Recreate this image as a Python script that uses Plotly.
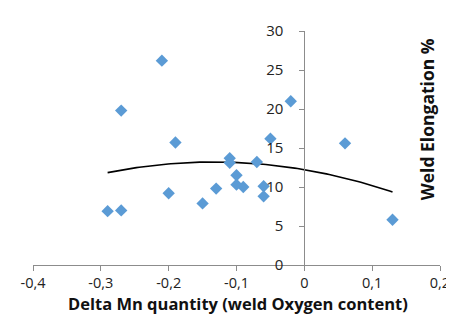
import numpy as np
import plotly.graph_objects as go

# Data
delta_mn = [-0.29, -0.27, -0.27, -0.21, -0.19, -0.20, -0.15, -0.13, -0.11, -0.11,
            -0.10, -0.10, -0.09, -0.07, -0.06, -0.06, -0.05, -0.02, 0.06, 0.13]
elongation = [6.9, 7.0, 19.8, 26.2, 15.7, 9.2, 7.9, 9.8, 13.7, 13.1,
              11.5, 10.3, 10.0, 13.2, 10.1, 8.8, 16.2, 21.0, 15.6, 5.8]

x_tickvals = [-0.4, -0.3, -0.2, -0.1, 0, 0.1, 0.2]
x_ticktext = ["-0,4", "-0,3", "-0,2", "-0,1", "0", "0,1", "0,2"]
y_tickvals = [0, 5, 10, 15, 20, 25, 30]
y_ticktext = ["0", "5", "10", "15", "20", "25", "30"]

x_title = "Delta Mn quantity (weld Oxygen content)"
y_title = "Weld Elongation %"

# Polynomial (order 2) trendline, as in the spreadsheet chart
coef = np.polyfit(delta_mn, elongation, 2)
tx = np.linspace(min(delta_mn), max(delta_mn), 100)
ty = np.polyval(coef, tx)

fig = go.Figure()
fig.add_trace(go.Scatter(
    x=tx, y=ty, mode="lines",
    line=dict(color="black", width=1.6),
    hoverinfo="skip", showlegend=False,
))
fig.add_trace(go.Scatter(
    x=delta_mn, y=elongation, mode="markers",
    marker=dict(symbol="diamond", size=9.5, color="#5B9BD5", line=dict(width=0)),
    showlegend=False,
))

FONT = "Open Sans"
L, R, T, B = 24, 14, 20, 57
PW, PH = 454 - L - R, 314 - T - B
fig.update_layout(
    width=454, height=314,
    margin=dict(l=L, r=R, t=T, b=B),
    paper_bgcolor="white", plot_bgcolor="white",
    font=dict(family=FONT, size=15, color="#222222"),
    xaxis=dict(
        range=[-0.4, 0.2], tickvals=x_tickvals, ticktext=x_ticktext,
        showgrid=False, zeroline=False, showline=True, linecolor="#8c8c8c", linewidth=1,
        ticks="outside", ticklen=5, tickcolor="#8c8c8c",
        tickfont=dict(family=FONT, size=14.5, color="#222222"),
        fixedrange=True,
    ),
    yaxis=dict(
        range=[0, 30], tickvals=y_tickvals, ticktext=y_ticktext,
        anchor="free", position=2 / 3,
        showgrid=False, zeroline=False, showline=True, linecolor="#8c8c8c", linewidth=1,
        ticks="outside", ticklen=5, tickcolor="#8c8c8c", ticklabelstandoff=13,
        tickfont=dict(family=FONT, size=15, color="#222222"),
        fixedrange=True,
    ),
    annotations=[
        dict(
            text=f"<b>{y_title}</b>", xref="paper", yref="paper",
            x=(427 - L) / PW, y=(314 - B - 109) / PH, textangle=-90,
            showarrow=False, xanchor="center", yanchor="middle",
            font=dict(family=FONT, size=17.5, color="#111111"),
        ),
        dict(
            text=f"<b>{x_title}</b>", xref="paper", yref="paper",
            x=(234 - L) / PW, y=(314 - B - 296) / PH, borderpad=0,
            showarrow=False, xanchor="center", yanchor="middle",
            font=dict(family=FONT, size=16.5, color="#111111"),
        ),
    ],
)

fig.write_html("out.html")
